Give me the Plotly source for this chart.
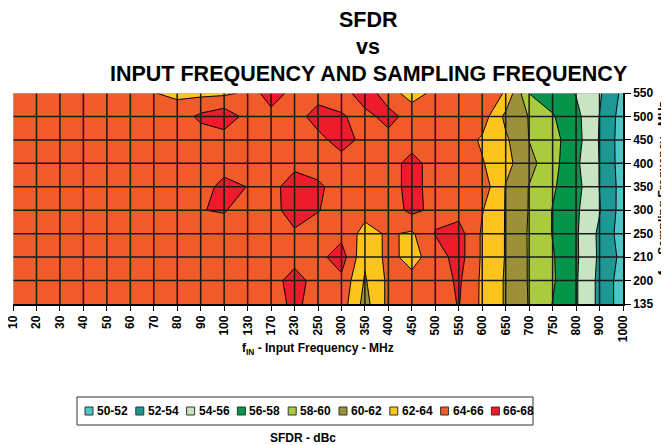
import plotly.graph_objects as go

# input frequency (x) and sampling frequency (y) categories
fin_labels = ['10', '20', '30', '40', '50', '60', '70', '80', '90', '100', '130', '170',
              '230', '250', '300', '350', '400', '450', '500', '550', '600', '650', '700',
              '750', '800', '900', '1000']
fs_labels = ['135', '200', '210', '250', '300', '350', '400', '450', '500', '550']

# SFDR (dBc), one list per sampling frequency
sfdr_135 = [65, 65, 65, 65, 65, 65, 65, 65, 65, 65, 65, 65, 66.5, 65, 65, 61.3, 64.5, 65, 65, 66.1,
            63.64, 61.8, 59.9, 57.95, 56.2, 53.5, 51.0]
sfdr_200 = [65, 65, 65, 65, 65, 65, 65, 65, 65, 65, 65, 65, 67.0, 65, 65.5, 61.8, 64.4, 64.6, 65, 66.3,
            63.64, 61.8, 59.84, 58.24, 56.2, 53.5, 51.0]
sfdr_210 = [65, 65, 65, 65, 65, 65, 65, 65, 65, 65, 65, 65, 65.1, 65.4, 67.0, 62.3, 64.6, 63.3, 65, 66.8,
            63.73, 61.9, 59.83, 58.17, 56.29, 53.67, 51.4]
sfdr_250 = [65, 65, 65, 65, 65, 65, 65, 65, 65, 65, 65, 65, 65.6, 65, 65.4, 63.3, 64.25, 63.7, 66.1, 66.8,
            63.73, 61.9, 59.8, 57.92, 56.25, 53.6, 51.0]
sfdr_300 = [65, 65, 65, 65, 65, 65, 65, 65, 65.95, 66.15, 65, 65, 67.3, 66.1, 65, 64.7, 65, 66.5, 65.5, 65.3,
            64.11, 61.9, 59.9, 57.92, 56.32, 54.12, 51.1]
sfdr_350 = [65, 65, 65, 65, 65, 65, 65, 65, 65, 66.7, 65.95, 65, 67.5, 66.4, 65, 65, 65, 66.8, 65, 65.2,
            65.1, 61.9, 59.92, 58.25, 56.7, 53.95, 51.2]
sfdr_400 = [65, 65, 65, 65, 65, 65, 65, 65, 65, 65, 65, 65, 65.2, 65, 65, 65, 65, 66.8, 65, 65,
            64.15, 62.6, 60.67, 58.67, 56.37, 53.95, 51.0]
sfdr_450 = [65, 65, 65, 65, 65, 65, 65, 65, 65, 65, 65, 65, 65, 65.3, 67.0, 65.3, 65.2, 65, 65, 65.1,
            63.72, 62.34, 59.95, 58.67, 56.75, 53.86, 51.0]
sfdr_500 = [65, 65, 65, 65, 65, 65, 65, 65, 66.4, 67.3, 65.3, 65, 65, 67.0, 66.2, 65.3, 66.8, 65, 65, 65,
            65.0, 61.5, 59.91, 58.17, 56.56, 53.95, 51.1]
sfdr_550 = [65, 65, 65, 65, 65, 65, 64.05, 63.6, 63.5, 63.6, 64.3, 67.5, 65, 65, 65, 67.3, 64.7, 63.3, 64.4, 65,
            65.5, 63.8, 57.95, 57.0, 55.9, 54.26, 51.5]

band_low = [50, 52, 54, 56, 58, 60, 62, 64, 66]
band_colors = ['#4DC5C4', '#1E9894', '#C9E4C3', '#04944A', '#ABCB3E',
               '#9C9038', '#FCC41D', '#F15A29', '#ED1C2C']

z = [sfdr_135, sfdr_200, sfdr_210, sfdr_250, sfdr_300,
     sfdr_350, sfdr_400, sfdr_450, sfdr_500, sfdr_550]
xs = list(range(len(fin_labels)))
ys = list(range(len(fs_labels)))

# stepped colorscale, one flat step per 2 dB band
zmin, zmax = band_low[0], band_low[-1] + 2
cscale = []
for k, c in enumerate(band_colors):
    cscale.append([k / len(band_colors), c])
    cscale.append([(k + 1) / len(band_colors), c])

FONT = 'Liberation Sans'
# page body has an 8px margin, so the figure is shrunk by that much
OFF = 8
W, H = 669 - OFF, 445 - OFF
L, R, T, B = 13 - OFF, 46, 93 - OFF, 141
PW, PH = W - L - R, H - T - B


def px(xp):
    # window pixel -> paper x
    return (xp - OFF - L) / PW


def py(yp):
    # window pixel -> paper y
    return (T + PH - (yp - OFF)) / PH


fig = go.Figure()
fig.add_trace(go.Contour(
    z=z, x=xs, y=ys,
    zmin=zmin, zmax=zmax, colorscale=cscale, showscale=False,
    contours=dict(start=zmin, end=zmax, size=2, coloring='fill'),
    line=dict(color='black', width=1, smoothing=0),
    hoverinfo='skip',
))

shapes = []
# black grid over the filled map
for i in xs[1:-1]:
    shapes.append(dict(type='line', xref='x', yref='y', x0=i, x1=i, y0=ys[0], y1=ys[-1],
                       line=dict(color='#1a1a1a', width=1.5), layer='above'))
for j in ys[1:-1]:
    shapes.append(dict(type='line', xref='x', yref='y', x0=xs[0], x1=xs[-1], y0=j, y1=j,
                       line=dict(color='#1a1a1a', width=1.5), layer='above'))
# light left / top border
shapes.append(dict(type='line', xref='x', yref='y', x0=xs[0], x1=xs[0], y0=ys[0], y1=ys[-1],
                   line=dict(color='#bbbbbb', width=1), layer='above'))
shapes.append(dict(type='line', xref='x', yref='y', x0=xs[0], x1=xs[-1], y0=ys[-1], y1=ys[-1],
                   line=dict(color='#bbbbbb', width=1), layer='above'))

annotations = []
# title lines
for txt, yc in [('SFDR', 20), ('vs', 47), ('INPUT FREQUENCY AND SAMPLING FREQUENCY', 74)]:
    annotations.append(dict(text=txt, x=px(368), y=py(yc), xref='paper', yref='paper',
                            xanchor='center', yanchor='middle', showarrow=False,
                            font=dict(family=FONT, size=21.5, color='black', weight='bold')))
# axis titles
annotations.append(dict(text='f<sub>IN</sub> - Input Frequency - MHz', x=px(318), y=py(349),
                        xref='paper', yref='paper', xanchor='center', yanchor='middle',
                        showarrow=False, font=dict(family=FONT, size=12, color='black', weight='bold')))
annotations.append(dict(text='f<sub>S</sub> - Sampling Frequency - MHz', x=px(664), y=py(188),
                        xref='paper', yref='paper', xanchor='center', yanchor='middle', textangle=-90,
                        showarrow=False, font=dict(family=FONT, size=12, color='black', weight='bold')))

# legend box built from the bands
shapes.append(dict(type='rect', xref='paper', yref='paper', x0=px(77), x1=px(533),
                   y0=py(425), y1=py(397), line=dict(color='#333333', width=1),
                   fillcolor='white'))
for k, (lo, c) in enumerate(zip(band_low, band_colors)):
    x0 = 85 + 50.8 * k
    shapes.append(dict(type='rect', xref='paper', yref='paper', x0=px(x0), x1=px(x0 + 8),
                       y0=py(415), y1=py(407), line=dict(color='#333333', width=1),
                       fillcolor=c))
    annotations.append(dict(text=f'{lo}-{lo + 2}', x=px(x0 + 10), y=py(411),
                            xref='paper', yref='paper', xanchor='left', yanchor='middle',
                            showarrow=False,
                            font=dict(family=FONT, size=12, color='black', weight='bold')))
annotations.append(dict(text='SFDR - dBc', x=px(303), y=py(438), xref='paper', yref='paper',
                        xanchor='center', yanchor='middle', showarrow=False,
                        font=dict(family=FONT, size=12, color='black', weight='bold')))

fig.update_layout(
    width=W, height=H,
    margin=dict(l=L, r=R, t=T, b=B),
    paper_bgcolor='white', plot_bgcolor='white',
    showlegend=False,
    shapes=shapes, annotations=annotations,
    xaxis=dict(range=[xs[0], xs[-1]], tickvals=xs, ticktext=fin_labels, tickangle=-90,
               ticks='outside', ticklen=5, tickcolor='black', showline=True, linecolor='black',
               linewidth=1.5, showgrid=False, zeroline=False, automargin=False,
               ticklabeloverflow='allow',
               tickfont=dict(family=FONT, size=12, color='black', weight='bold')),
    yaxis=dict(range=[ys[0], ys[-1]], tickvals=ys, ticktext=fs_labels, side='right',
               ticks='outside', ticklen=6, tickcolor='black', showline=True, linecolor='black',
               linewidth=1.5, showgrid=False, zeroline=False, automargin=False,
               ticklabeloverflow='allow',
               tickfont=dict(family=FONT, size=12, color='black', weight='bold')),
)

fig.write_html('out.html')
